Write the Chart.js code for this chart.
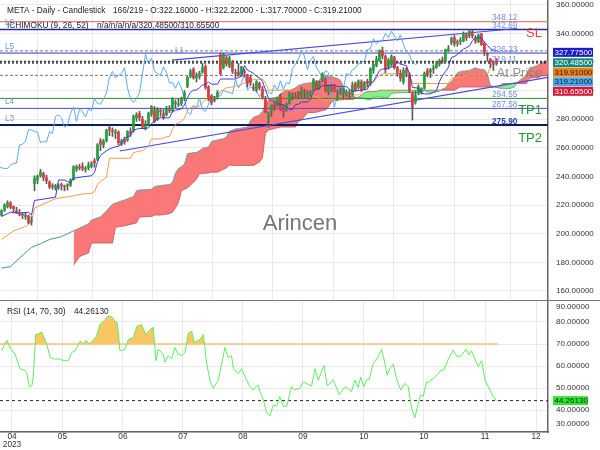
<!DOCTYPE html>
<html>
<head>
<meta charset="utf-8">
<script src="https://cdn.jsdelivr.net/npm/chart.js@4.4.0/dist/chart.umd.min.js"></script>
<style>
  html, body { margin: 0; padding: 0; background: #fff; }
  #wrap { position: relative; width: 600px; height: 450px; overflow: hidden; }
  #price { position: absolute; left: 0; top: 0; }
  #rsi { position: absolute; left: 0; top: 300px; }
</style>
</head>
<body>
<div id="wrap">
  <canvas id="price" width="600" height="300"></canvas>
  <canvas id="rsi" width="600" height="150"></canvas>
</div>
<script>
//daily bars, index 0 = first bar on screen
const opens = [
  213.0, 216.5, 219.0, 221.5, 219.0, 216.0, 213.5, 213.5, 212.0, 212.5,
  208.5, 235.0, 237.5, 240.5, 242.0, 239.0, 236.0, 233.0, 232.0, 232.5,
  234.0, 233.0, 233.5, 234.0, 238.0, 245.0, 246.5, 247.0, 245.0, 246.0,
  247.0, 251.0, 252.0, 265.0, 262.0, 265.0, 274.0, 272.0, 270.5, 271.0,
  263.0, 266.0, 265.5, 271.5, 272.0, 281.0, 284.0, 280.0, 274.0, 276.5,
  283.5, 286.5, 280.0, 285.5, 284.0, 283.0, 286.5, 286.0, 291.0, 290.0,
  291.0, 295.0, 303.0, 310.0, 315.0, 309.0, 310.0, 313.0, 317.0, 302.5,
  296.0, 293.0, 296.0, 325.0, 316.0, 323.0, 317.0, 320.0, 312.0, 313.0,
  311.5, 313.0, 311.0, 309.0, 302.0, 301.0, 305.0, 301.0, 294.0, 280.0,
  286.0, 290.0, 289.5, 296.0, 286.0, 287.0, 291.0, 296.0, 295.5, 299.0,
  296.0, 300.0, 296.0, 297.5, 300.5, 305.0, 302.5, 308.0, 308.0, 299.0,
  302.0, 303.0, 294.0, 299.0, 298.5, 297.0, 299.0, 297.0, 305.0, 302.0,
  306.0, 301.5, 306.5, 305.5, 314.0, 317.5, 321.0, 328.0, 324.0, 316.5,
  318.0, 323.0, 316.0, 312.0, 306.0, 315.0, 311.0, 298.0, 292.0, 298.0,
  300.0, 301.5, 314.0, 313.0, 315.0, 316.0, 318.5, 321.0, 320.5, 328.0,
  333.5, 337.0, 333.0, 334.5, 334.5, 339.0, 338.5, 341.0, 336.5, 334.0,
  339.5, 333.0, 325.5, 322.0, 318.5, 322.16
];
const highs = [
  216.8, 221.0, 223.0, 222.5, 219.5, 218.5, 217.0, 214.5, 214.5, 213.0,
  212.0, 240.5, 241.0, 245.0, 243.0, 241.0, 237.0, 235.0, 234.5, 235.0,
  235.5, 234.0, 235.0, 238.5, 247.5, 248.0, 248.5, 249.5, 247.0, 250.0,
  250.5, 252.5, 263.0, 266.5, 266.0, 273.0, 275.5, 274.0, 273.0, 272.0,
  266.0, 267.5, 272.0, 274.0, 283.0, 284.5, 285.5, 282.0, 279.0, 285.0,
  289.5, 289.0, 288.0, 287.5, 287.0, 289.0, 289.5, 295.0, 293.5, 294.5,
  295.5, 300.0, 310.0, 315.0, 316.0, 312.5, 313.5, 319.0, 318.0, 303.5,
  297.0, 296.0, 300.0, 326.2, 326.0, 324.0, 324.0, 321.0, 315.0, 319.0,
  317.0, 315.0, 311.5, 311.0, 305.0, 307.0, 306.0, 303.0, 296.0, 285.0,
  290.0, 292.0, 295.0, 297.5, 289.5, 291.5, 299.0, 298.5, 298.5, 299.5,
  302.5, 301.0, 300.0, 300.0, 308.5, 307.0, 306.5, 312.5, 309.0, 304.0,
  304.5, 304.0, 300.5, 301.5, 301.5, 300.5, 300.5, 306.0, 306.0, 307.5,
  307.5, 306.5, 308.0, 316.0, 318.5, 324.0, 328.5, 330.5, 325.0, 322.5,
  325.0, 324.0, 317.0, 314.5, 316.0, 316.0, 312.5, 299.0, 299.5, 304.0,
  302.0, 313.0, 315.5, 315.5, 318.0, 320.5, 322.0, 323.5, 329.0, 331.5,
  337.5, 338.5, 335.5, 337.0, 341.0, 340.0, 342.7, 342.0, 338.5, 339.5,
  340.0, 334.0, 326.5, 322.5, 321.0, 322.22
];
const lows = [
  212.5, 215.5, 218.0, 217.5, 214.5, 214.0, 212.5, 210.5, 210.0, 207.0,
  206.0, 230.0, 235.0, 239.5, 237.0, 235.0, 231.5, 231.0, 230.5, 231.0,
  230.5, 230.0, 230.5, 233.0, 237.5, 243.5, 244.5, 244.0, 243.0, 244.5,
  246.0, 246.5, 251.0, 258.0, 260.0, 264.0, 268.5, 268.0, 266.5, 262.0,
  261.5, 262.5, 264.5, 268.0, 271.0, 278.5, 279.0, 273.5, 272.5, 275.5,
  282.0, 277.5, 279.0, 282.0, 280.0, 282.5, 284.5, 285.0, 288.0, 289.0,
  289.5, 293.0, 302.0, 309.0, 308.0, 306.0, 308.0, 312.0, 301.0, 293.0,
  290.0, 292.0, 294.0, 311.0, 315.0, 317.0, 316.0, 312.0, 309.0, 310.0,
  310.0, 309.5, 302.5, 303.5, 300.0, 299.0, 300.5, 294.0, 284.5, 274.4,
  282.0, 286.0, 289.0, 286.0, 281.5, 285.5, 290.5, 293.5, 295.0, 294.5,
  295.0, 295.0, 294.5, 296.0, 299.5, 300.5, 301.0, 306.0, 299.0, 297.0,
  299.0, 299.0, 293.0, 297.0, 294.0, 296.0, 294.5, 296.0, 299.5, 301.0,
  299.5, 300.5, 302.5, 303.5, 312.0, 316.5, 320.5, 322.0, 312.5, 315.0,
  317.0, 315.0, 310.0, 306.5, 304.5, 309.5, 298.5, 279.4, 290.5, 297.0,
  297.5, 301.0, 309.5, 309.0, 312.0, 315.5, 317.0, 319.0, 319.5, 327.0,
  332.0, 331.0, 331.0, 332.0, 334.0, 335.0, 337.0, 336.5, 333.0, 333.5,
  331.5, 324.5, 320.5, 316.0, 314.0, 317.70
];
const closes = [
  216.0, 220.1, 221.5, 218.5, 217.5, 215.0, 213.2, 212.9, 213.0, 207.7,
  209.4, 238.6, 240.3, 243.2, 239.2, 237.0, 232.8, 232.8, 233.3, 233.3,
  233.6, 232.7, 233.8, 237.8, 246.8, 246.9, 246.0, 245.6, 245.6, 248.0,
  249.0, 249.4, 262.0, 262.5, 264.7, 272.6, 272.6, 271.4, 271.1, 263.6,
  264.6, 264.0, 271.3, 270.0, 282.0, 283.0, 281.0, 274.5, 276.0, 284.0,
  288.7, 278.5, 287.0, 285.3, 281.5, 287.0, 286.0, 294.4, 291.0, 290.5,
  294.1, 298.3, 309.3, 313.4, 308.9, 310.6, 312.0, 316.0, 302.0, 294.3,
  291.6, 294.5, 298.6, 311.7, 325.5, 318.6, 322.7, 313.6, 312.0, 310.7,
  316.6, 312.6, 305.2, 305.7, 301.6, 306.2, 301.9, 294.3, 285.1, 283.3,
  289.9, 287.6, 294.7, 286.8, 285.5, 290.3, 297.4, 295.1, 295.9, 296.4,
  300.2, 299.1, 298.7, 297.9, 307.6, 301.7, 305.1, 311.7, 300.3, 302.6,
  301.0, 299.7, 295.7, 299.1, 300.8, 298.9, 297.7, 304.0, 300.2, 306.8,
  300.9, 305.6, 304.8, 315.4, 318.4, 321.8, 327.7, 324.2, 314.7, 321.2,
  324.0, 316.0, 312.8, 308.7, 314.0, 312.6, 299.5, 288.4, 296.7, 302.7,
  301.3, 311.9, 310.9, 314.6, 315.8, 318.8, 319.8, 320.6, 328.8, 329.2,
  336.3, 332.7, 334.2, 335.0, 340.0, 337.0, 341.5, 338.2, 334.7, 339.0,
  332.2, 327.2, 324.8, 320.0, 318.3, 319.21
];

//ichimoku lines (bar index -> value)
const tenkanIdx = [0,3,6,9,10,11,18,19,21,22,23,24,27,30,31,32,33,35,36,38,39,40,41,42,43,44,45,46,48,49,50,51,52,53,56,57,58,60,61,62,63,64,65,66,67,68,69,70,72,73,78,79,80,81,82,83,84,85,86,87,88,89,90,91,92,94,95,96,97,98,99,100,102,103,104,105,106,107,110,111,112,115,116,117,120,121,122,123,124,125,126,127,129,130,131,132,133,135,136,137,139,140,141,143,144,145,146,147,148,149,150,151,152,153,154,155,156,157,158,160,161,162,163,164,165];
const tenkan = [212,215,214.5,215,213,223.25,225.5,237.5,237.5,236.5,235.5,238.75,239.75,240.5,242.75,250.25,254.75,258,259.25,260.75,261,263.25,266.75,267.75,268.5,272.25,273,273.5,273.5,274,277,278.75,280.25,281,281,285.25,286.25,287.25,290,295,298.75,300.25,300.5,302,304,304.25,306,304.5,304.5,308.1,308.1,309.1,310.1,317.6,314.25,313.25,312,310,309,306.5,300.75,294.7,292.95,292.7,290.7,290.2,288.7,286.7,286.7,290.25,290.5,292,292,294,299.5,301,301.5,303.5,303.5,304.25,302.75,302.75,301,299.5,300.25,300.75,301,305.25,306.5,310,314,315,315.5,316.5,317,320.25,318.5,317.5,311.75,302.2,301.7,298.2,297.7,297.7,298.7,299.95,306.25,310.25,313.25,316.25,323.25,323.75,325.25,327,329,330,331.1,334.85,336.85,336.85,333.6,331.6,329.35,328.35,328];

const kijunIdx = [0,4,8,10,11,18,24,25,27,30,31,32,33,35,36,43,44,45,46,47,48,49,50,53,54,55,56,57,58,59,60,61,62,63,65,66,67,68,69,70,72,73,74,75,77,78,80,81,82,83,84,85,87,88,89,99,100,102,103,105,106,107,114,115,119,120,121,122,123,124,125,126,127,136,137,149,150,151,153,154,155,156,162,163,164,165];
const kijun = [196,202,205,208,218,224.5,226.5,227,227.75,228.25,229.25,234.5,236.25,239.5,252.75,252.75,256.5,257.25,257.75,258,259.25,261.5,266.25,266.25,267,267.75,268,273,276.5,277.5,278.5,280.75,285.75,288.25,288.75,289.25,291.75,293.5,295,295.75,295.75,299.35,300.85,301.85,302.6,303.1,304.35,305.35,305.6,307.1,307.6,307.85,308.1,305.35,300.3,300.3,299.2,297.7,296.7,295.7,294.7,293.45,293.45,297,297,299,301.5,302.75,304.5,305.75,308.5,310.75,311.75,311.75,304.95,304.95,308.45,308.95,308.95,310.2,310.2,311.05,311.05,316.6,319.85,320.1];

const spanAEarlyIdx = [0, 3, 6, 10, 13, 16, 20, 24];
const spanAEarly = [176, 177, 183, 190.5, 193, 196, 198, 202];

const cloudIdx = [24,26,27,29,30,33,35,37,38,41,44,45,46,50,51,53,56,57,58,59,60,61,62,65,66,67,69,70,72,74,75,76,77,78,79,82,83,84,86,87,88,89,90,92,93,95,96,98,99,100,101,102,104,106,107,108,109,110,111,112,113,114,115,116,117,118,119,120,121,122,123,124,125,126,128,129,130,131,133,136,137,138,140,141,143,145,146,147,148,149,150,151,152,153,156,158,159,161,162,163,166,167,169,170,171,172,173,174,175,176,177,178,179,180,181,182,184];
const spanA = [
  202,204,205,207,209.6, 211.8,216,220.6,221.5,223.6, 226,230,230.6,231,233, 233.75,234.4,236,242.4,245.5,
  247,248.75,256,256.9,258, 259.75,260.6,264.4,265.6,266.4, 267.75,271.6,272.5,273.25,273.6, 274.5,279.1,281.4,282.9,285.4,
  290.4,293.5,294.5,295.6,297.9, 300.5,300.1,302,303.7,304.3, 305,305.2,305.6,307.2,311.5, 309.9,309.8,309.8,309,308.55,
  307.3,303,297.5,296.6,296, 295.5,295,294.8,294.5,293.5, 293.5,295.3,295.5,295.6,294.85, 295.35,297.9,298.35,298.5,298.5,
  298.85,298.1,299,299.9,298.5, 299,299.6,301.1,301.9,304.9, 306.1,309.25,312.4,313.4,314.1, 316,315.1,314.6,311.75,303.6,
  301.6,301.6,301.3,301.8,302.5, 305.6,307.6,309.1,310.6,315.85, 316.35,317.1,318,319.6,320.1, 321.1,322
];
const spanB = [
  178,184,185,186.5,193.5, 193.5,193.5,193.5,204.5,205.5, 207,207.5,211.7,212,213, 213,214,215,218,222,
  230,231,232,238,242, 242,242.5,243,243,245, 246,248,247.75,247.75,247.75, 247.75,247.75,247.75,250,253,
  270,272.5,273,274,274.5, 274.5,274.5,274.5,278.35,279.6, 281.85,284.6,284.6,285.35,286.1, 286.35,288.6,292.1,293.1,293.85,
  293.85,293.85,293.85,293.85,293.85, 294.35,295.35,297.1,298.6,299.35, 299.35,299.35,299.35,300.3,300.3, 300.3,300.3,300.3,300.3,300.3,
  300.3,300.3,300.3,300.3,300.3, 300.3,300.3,300.3,300.3,300.3, 300.3,300.2,301.45,302.45,302.45, 302.45,302.45,302.45,302.45,302.45,
  302.45,304.95,304.95,304.95,304.95, 304.95,304.95,304.95,304.95,308.45, 308.95,308.95,308.95,310.2,310.2, 311.05,311.05
];

//trend lines, [bar index, price] at both ends
const trendUpper = [[56.8, 321.35], [171.8, 343.4]];
const trendLower = [[39.5, 257.8], [182.2, 309.2]];

//horizontal levels
const levelValues = [348.12, 342.69, 327.775, 326.23, 320.485, 319.91, 319.21, 310.655, 294.55, 287.58, 275.90];
const levelTexts = ['348.12', '342.69', '326.23', '319.11', '294.55', '287.58', '275.90'];
const levelTextValues = [348.12, 342.69, 326.23, 319.11, 294.55, 287.58, 275.90];
const sideNames = ['L6', 'L5', 'L4', 'L3'];
const sideValues = [342.69, 326.23, 287.58, 275.90];

//values in the right hand boxes
const boxValues = [327.775, 320.485, 319.91, 319.21, 310.655];

//rsi (14)
const rsiIdx = [0.1,1.2,1.9,2.8,4.5,6.2,7.8,8.4,9.3,10.1,10.6,11.4,12.3,13.4,15.1,16.2,17.3,19.5,20.6,22.3,23.4,24.5,26.2,27.1,28.2,29.3,31.7,32.8,34.5,35.6,36.7,37.8,38.6,39.5,41.2,42.3,43.9,45.1,46.7,48.1,49.5,50.6,51.5,52.3,53.9,54.5,55.6,56.7,57.8,58.9,60.1,61.2,62.3,63.4,64.3,66.2,67.3,68.4,69.5,70.6,72.3,73.4,74.5,75.6,76.7,77.3,78.9,80.1,81.7,82.8,83.9,85.6,86.2,87.3,88.4,89.5,90.6,91.7,92.8,93.9,95.1,96.7,97.8,99.5,100.6,103.4,104.5,105.6,107.5,108.6,110.6,112.6,114.5,116.7,117.8,118.9,119.8,120.8,121.7,122.6,123.9,125.6,126.7,127.5,128.6,129.5,130.6,131.7,133.1,134.5,135.6,136.7,137.8,138.6,139.7,140.6,141.7,142.3,143.9,145.3,146.2,147.5,148.9,150.6,151.9,153.4,154.8,155.8,156.7,158.9,160.1,161.2,162.3,163.9,165];
const rsi = [66.9,70.6,71.6,68.4,65.4,58.8,58,57.2,50.6,50.9,55,74.3,74.6,75.5,69.9,63.9,63.2,63.2,62.4,62.4,66.1,66.9,71.3,70.1,71.6,69.9,73.6,78.8,81,82.8,82.4,80.5,79.5,66.9,67.6,72.1,72.8,78,78.8,74.3,76.5,77.6,62.4,67.6,65.4,61.7,64.7,63.2,68.4,65.4,64.7,66.1,75,75.8,70.6,72.1,74.3,61,53.6,49.9,53.6,61,68.4,63.9,64.7,58.8,56.5,58.8,53.6,50.6,49.1,51.3,48.4,44.7,38.8,37.3,42.4,41.7,46.1,41.7,41.7,50.6,49.1,49.9,52.8,50.9,58.8,53.6,60.2,50.9,53.8,46.9,50.6,48.4,53.6,50.3,55,50.6,53.6,53.8,61,64.2,67.6,63.2,55.8,58.8,60.7,54.3,49.1,52.1,50.6,41,36.5,41,46.9,46.1,52.8,52.4,54.3,56.1,57.7,58.3,62.8,67.2,64.2,64.7,67.6,65.1,66.9,59.8,62.4,53.6,50.6,46.1,44.2613];
const rsiLast = 44.2613;

//axes
const tickIdx = [3.5, 20.3, 40.5, 60.5, 80.5, 100.5, 120.8, 140.8, 161.2, 178.2];
const tickLabels = ['04', '05', '06', '07', '08', '09', '10', '10', '11', '12'];
const priceTicks = [160, 180, 200, 220, 240, 260, 280, 300, 320, 340, 360];
const rsiTicks = [30, 40, 50, 60, 70, 80, 90];


const X_MIN = -0.5, X_MAX = 182.2;
const GRID = '#e9e9e9';
const FONT = '"Liberation Sans", Arial, sans-serif';

Chart.defaults.font.family = FONT;
Chart.defaults.font.size = 8.3;
Chart.defaults.color = '#333';
Chart.defaults.animation = false;
Chart.defaults.plugins.legend.display = false;
Chart.defaults.plugins.tooltip.enabled = false;

//helpers
function toPoints(xs, ys) { return xs.map((x, i) => ({x: x, y: ys[i]})); }
function flat(v, x0, x1) { return [{x: x0, y: v}, {x: x1, y: v}]; }
function lineSet(data, color, width, order, extra) {
  return Object.assign({
    type: 'line', data: data, borderColor: color, borderWidth: width,
    pointRadius: 0, fill: false, tension: 0, order: order
  }, extra || {});
}
//keep the plot area exactly where the axis says, no label padding
function noPad(s) {
  s.paddingTop = 0; s.paddingBottom = 0; s.paddingLeft = 0; s.paddingRight = 0;
}

//styles for the horizontal levels, same order as levelValues
const levelStyles = [
  {color: '#e85a5a', width: 1},
  {color: '#2a2aa0', width: 1.3},
  {color: '#777777', width: 1, dash: [3, 2]},
  {color: '#3535c8', width: 1},
  {color: '#222222', width: 1, dash: [2, 2]},
  {color: '#222222', width: 1, dash: [2, 2]},
  {color: '#222222', width: 1, dash: [2, 2]},
  {color: '#777777', width: 1, dash: [3, 2]},
  {color: '#2e8b2e', width: 1},
  {color: '#4b4be0', width: 1},
  {color: '#0d1c5c', width: 2}
];
const boxStyles = [
  {bg: '#1c1cc8', fg: '#ffffff'},
  {bg: '#178a77', fg: '#ffffff'},
  {bg: '#f07d1a', fg: '#222222'},
  {bg: '#49a6ee', fg: '#222222'},
  {bg: '#d5173c', fg: '#ffffff'}
];


//price panel datasets
const barIdx = closes.map((c, i) => i);
const datasets = [];

datasets.push(lineSet(toPoints(tenkanIdx, tenkan), '#3b3bd6', 1, 0));

datasets.push({
  type: 'bar', order: 1, grouped: false, barThickness: 2, minBarLength: 1,
  borderWidth: 0,
  data: barIdx.map(i => ({x: i, y: [opens[i], closes[i]]})),
  backgroundColor: barIdx.map(i => closes[i] >= opens[i] ? '#24a33c' : '#e23a3e')
});
datasets.push({
  type: 'bar', order: 2, grouped: false, barThickness: 1,
  borderWidth: 0,
  data: barIdx.map(i => ({x: i, y: [lows[i], highs[i]]})),
  backgroundColor: '#5a5a5a'
});

datasets.push(lineSet(toPoints(kijunIdx, kijun), '#f39b4e', 1, 3));
//chikou: the closes drawn 26 bars back
datasets.push(lineSet(barIdx.map(i => ({x: i - 26, y: closes[i]})), '#5aaaf0', 1, 4));

datasets.push(lineSet(trendUpper.map(p => ({x: p[0], y: p[1]})), '#4a4ade', 1.2, 5));
datasets.push(lineSet(trendLower.map(p => ({x: p[0], y: p[1]})), '#4a4ade', 1.2, 5));

levelValues.forEach((v, i) => {
  const st = levelStyles[i];
  datasets.push(lineSet(flat(v, X_MIN, X_MAX), st.color, st.width, 6, {borderDash: st.dash || []}));
});

datasets.push(lineSet(toPoints(spanAEarlyIdx, spanAEarly), '#3a9c8a', 1, 7));

const spanAIndex = datasets.length;
datasets.push(lineSet(toPoints(cloudIdx, spanA), 'rgba(58,150,130,0.85)', 0.8, 8));
datasets.push(lineSet(toPoints(cloudIdx, spanB), 'rgba(190,55,55,0.8)', 0.8, 9, {
  fill: {target: spanAIndex, above: 'rgba(128,238,128,0.95)', below: 'rgba(250,108,108,0.92)'}
}));


//texts, labels and value boxes on the price panel
const priceOverlay = {
  id: 'priceOverlay',
  beforeDatasetsDraw(chart) {
    const c = chart.ctx;
    c.save();
    c.font = '22px ' + FONT;
    c.fillStyle = 'rgba(110,110,110,0.95)';
    c.textAlign = 'center';
    c.textBaseline = 'middle';
    c.fillText('Arincen', 300, 224);
    c.restore();
  },
  afterDraw(chart) {
    const c = chart.ctx;
    const ys = chart.scales.y;
    const area = chart.chartArea;
    c.save();

    //header
    c.font = '8.3px ' + FONT;
    c.fillStyle = '#222';
    c.textBaseline = 'middle';
    c.textAlign = 'left';
    c.fillText('META - Daily - Candlestick', 7, 10.5);
    c.fillText('166/219 - O:322.16000 - H:322.22000 - L:317.70000 - C:319.21000', 113, 10.5);
    c.fillText('ICHIMOKU (9, 26, 52)', 7, 25.5);
    c.fillText('n/a/n/a/n/a/320.48500/310.65500', 97, 25.5);

    //level names on the left
    c.textBaseline = 'alphabetic';
    c.fillStyle = '#6f8fe0';
    sideNames.forEach((t, i) => c.fillText(t, 5, ys.getPixelForValue(sideValues[i]) - 4));
    c.fillText('L1', 175, 53);

    //level values on the right
    levelTexts.forEach((t, i) => {
      const bold = t === '275.90';
      c.font = (bold ? 'bold ' : '') + '8.3px ' + FONT;
      c.fillStyle = bold ? '#2545a8' : '#7090e0';
      c.fillText(t, 492, ys.getPixelForValue(levelTextValues[i]) - 1.5);
    });

    //trade marks
    c.textAlign = 'right';
    c.textBaseline = 'middle';
    c.font = '13px ' + FONT;
    c.fillStyle = 'rgba(125,125,125,0.85)';
    c.fillText('At Price', 542, 73);
    c.fillStyle = '#e8413c';
    c.fillText('SL', 542, 33);
    c.fillStyle = '#1f9a2a';
    c.fillText('TP1', 542, 110);
    c.fillText('TP2', 542, 138);

    //value boxes on the axis
    c.textAlign = 'left';
    c.font = '8px ' + FONT;
    let prev = -Infinity;
    boxValues.forEach((v, i) => {
      const py = Math.max(ys.getPixelForValue(v) + 1.5, prev + 9.5);
      prev = py;
      c.fillStyle = boxStyles[i].bg;
      c.fillRect(area.right + 5, py - 4.5, 40, 9);
      c.fillStyle = boxStyles[i].fg;
      c.fillText(v.toFixed(5), area.right + 6.5, py + 0.5);
    });
    c.restore();
  }
};

new Chart(document.getElementById('price'), {
  type: 'bar',
  data: {datasets: datasets},
  options: {
    responsive: false,
    devicePixelRatio: 1,
    layout: {padding: 0},
    scales: {
      x: {
        type: 'linear', min: X_MIN, max: X_MAX, offset: false,
        afterBuildTicks: s => { s.ticks = tickIdx.map(v => ({value: v})); },
        ticks: {display: false},
        grid: {color: GRID, drawTicks: false},
        border: {display: false},
        afterFit: s => { s.height = 0; noPad(s); }
      },
      y: {
        position: 'right', min: 153.7, max: 363.3,
        afterBuildTicks: s => { s.ticks = priceTicks.map(v => ({value: v})); },
        ticks: {padding: 8, font: {size: 8}, color: '#333', callback: v => v.toFixed(5)},
        grid: {color: GRID, drawTicks: false},
        border: {display: true, color: '#666', width: 1.5},
        afterFit: s => { s.width = 52; noPad(s); }
      }
    }
  },
  plugins: [priceOverlay]
});


//rsi panel
const rsiOverlay = {
  id: 'rsiOverlay',
  afterDraw(chart) {
    const c = chart.ctx;
    const ys = chart.scales.y;
    const area = chart.chartArea;
    c.save();
    //panel separator
    c.strokeStyle = '#777';
    c.lineWidth = 1;
    c.beginPath();
    c.moveTo(0, 0.5);
    c.lineTo(600, 0.5);
    c.stroke();

    c.font = '8px ' + FONT;
    c.fillStyle = '#333';
    c.textBaseline = 'middle';
    c.textAlign = 'left';
    rsiTicks.forEach(v => {
      let py = ys.getPixelForValue(v);
      py = Math.min(Math.max(py, area.top + 7), area.bottom - 8);
      c.fillText(v.toFixed(5), area.right + 8, py);
    });

    //current value box
    const py = ys.getPixelForValue(rsiLast);
    c.fillStyle = '#2ee82e';
    c.fillRect(area.right + 5, py - 4.5, 35, 9);
    c.fillStyle = '#222';
    c.fillText(rsiLast.toFixed(5), area.right + 6.5, py + 0.5);

    c.font = '8.3px ' + FONT;
    c.fillStyle = '#222';
    c.fillText('RSI (14, 70, 30)', 7, 11.5);
    c.fillText(rsiLast.toFixed(5), 74, 11.5);
    c.restore();
  }
};

new Chart(document.getElementById('rsi'), {
  type: 'line',
  data: {
    datasets: [
      lineSet(toPoints(rsiIdx, rsi), '#5cee5c', 1, 0, {
        fill: {target: {value: 70}, above: '#f9c863', below: 'rgba(0,0,0,0)'}
      }),
      lineSet(flat(70, X_MIN, 165.5), '#f6c27a', 1.3, 1),
      lineSet(flat(rsiLast, X_MIN, X_MAX), '#222', 1, 2, {borderDash: [3, 3]})
    ]
  },
  options: {
    responsive: false,
    devicePixelRatio: 1,
    layout: {padding: 0},
    scales: {
      x: {
        type: 'linear', min: X_MIN, max: X_MAX, offset: false,
        afterBuildTicks: s => { s.ticks = tickIdx.map(v => ({value: v})); },
        ticks: {
          autoSkip: false, maxRotation: 0, padding: 1, color: '#333',
          font: {size: 8.3, lineHeight: 0.95},
          callback: (v, i) => i === 0 ? [tickLabels[i], '2023'] : tickLabels[i]
        },
        grid: {color: GRID, drawTicks: false},
        border: {color: '#666', width: 1.5},
        afterFit: s => { s.height = 18; noPad(s); }
      },
      y: {
        position: 'right', min: 30, max: 90,
        afterBuildTicks: s => { s.ticks = rsiTicks.map(v => ({value: v})); },
        ticks: {display: false},
        grid: {color: GRID, drawTicks: false},
        border: {color: '#666', width: 1.5},
        afterFit: s => { s.width = 52; noPad(s); }
      }
    }
  },
  plugins: [rsiOverlay]
});
</script>
</body>
</html>
